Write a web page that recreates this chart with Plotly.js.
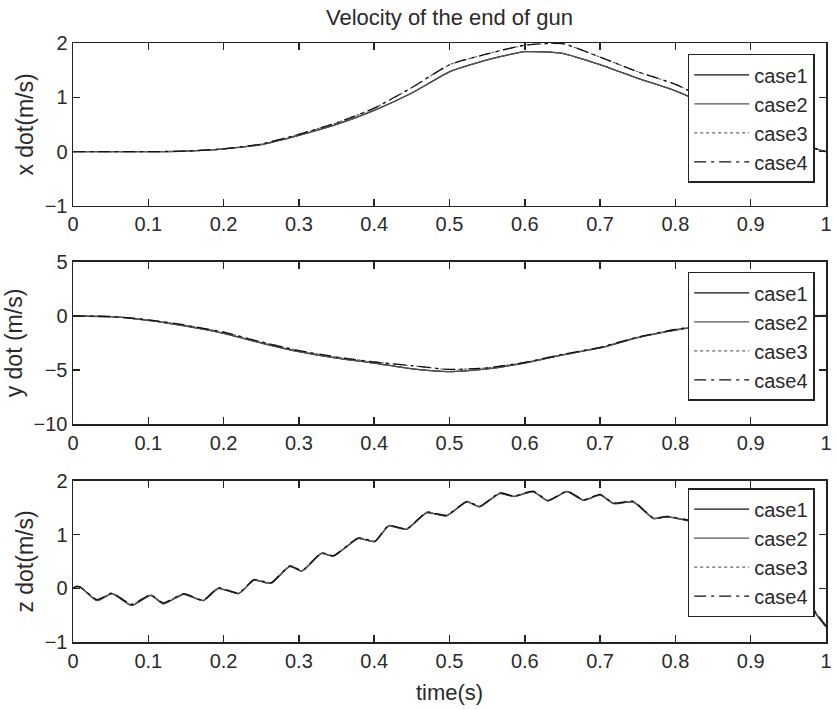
<!DOCTYPE html>
<html>
<head>
<meta charset="utf-8">
<script src="https://cdn.plot.ly/plotly-3.0.1.min.js"></script>
<style>html,body{margin:0;padding:0;background:#fff;}#chart{width:836px;height:710px;}</style>
</head>
<body>
<div id="chart"></div>
<script>
// ---- data ----
const caseNames = ["case1", "case2", "case3", "case4"];
const xTicks = [0, 0.1, 0.2, 0.3, 0.4, 0.5, 0.6, 0.7, 0.8, 0.9, 1];

// x dot & y dot sample times (s)
const tXY = [0, 0.05, 0.1, 0.15, 0.2, 0.25, 0.3, 0.35, 0.4, 0.45, 0.5, 0.55, 0.6, 0.65, 0.7, 0.75, 0.8, 0.85, 0.9, 0.95, 1.0];

const xdotCase1 = [0, 0, 0, 0.01, 0.05, 0.13, 0.30, 0.50, 0.76, 1.08, 1.47, 1.69, 1.84, 1.81, 1.60, 1.35, 1.12, 0.82, 0.50, 0.20, 0.0];
const xdotCase2 = [0, 0, 0, 0.01, 0.05, 0.13, 0.30, 0.50, 0.76, 1.08, 1.47, 1.69, 1.84, 1.81, 1.60, 1.35, 1.12, 0.82, 0.50, 0.20, 0.0];
const xdotCase3 = [0, 0, 0, 0.01, 0.05, 0.14, 0.32, 0.53, 0.80, 1.18, 1.60, 1.80, 1.96, 1.99, 1.74, 1.47, 1.24, 0.90, 0.55, 0.22, 0.0];
const xdotCase4 = [0, 0, 0, 0.01, 0.05, 0.14, 0.32, 0.53, 0.80, 1.18, 1.60, 1.80, 1.96, 1.99, 1.74, 1.47, 1.24, 0.90, 0.55, 0.22, 0.0];

const ydotCase1 = [0, -0.06, -0.40, -0.93, -1.60, -2.50, -3.30, -3.90, -4.35, -4.90, -5.15, -4.90, -4.35, -3.60, -2.96, -2.00, -1.30, -0.80, -0.40, -0.15, 0.0];
const ydotCase2 = [0, -0.06, -0.40, -0.93, -1.60, -2.50, -3.30, -3.90, -4.35, -4.90, -5.15, -4.90, -4.35, -3.60, -2.96, -2.00, -1.30, -0.80, -0.40, -0.15, 0.0];
const ydotCase3 = [0, -0.05, -0.35, -0.85, -1.50, -2.40, -3.20, -3.80, -4.25, -4.60, -4.95, -4.80, -4.30, -3.55, -2.90, -1.95, -1.25, -0.75, -0.35, -0.10, 0.05];
const ydotCase4 = [0, -0.05, -0.35, -0.85, -1.50, -2.40, -3.20, -3.80, -4.25, -4.60, -4.95, -4.80, -4.30, -3.55, -2.90, -1.95, -1.25, -0.75, -0.35, -0.10, 0.05];

// z dot sample times (s)
const tZ = [0, 0.005, 0.01, 0.032, 0.052, 0.078, 0.103, 0.12, 0.147, 0.173, 0.193, 0.22, 0.24, 0.258, 0.264, 0.288, 0.304, 0.33, 0.346, 0.379, 0.401, 0.419, 0.443, 0.47, 0.496, 0.523, 0.54, 0.567, 0.585, 0.611, 0.631, 0.656, 0.678, 0.70, 0.718, 0.744, 0.771, 0.789, 0.82, 0.85, 0.88, 0.91, 0.94, 0.965, 0.983, 1.0];
const zdotCase1 = [0.0, 0.03, 0.02, -0.23, -0.10, -0.32, -0.13, -0.29, -0.11, -0.23, 0.0, -0.10, 0.15, 0.10, 0.10, 0.41, 0.32, 0.65, 0.60, 0.93, 0.87, 1.16, 1.10, 1.41, 1.35, 1.61, 1.52, 1.77, 1.71, 1.80, 1.63, 1.80, 1.64, 1.74, 1.58, 1.61, 1.30, 1.33, 1.25, 1.10, 0.95, 0.75, 0.45, 0.10, -0.40, -0.72];
const zdotCase2 = [0.0, 0.03, 0.02, -0.23, -0.10, -0.32, -0.13, -0.29, -0.11, -0.23, 0.0, -0.10, 0.15, 0.10, 0.10, 0.41, 0.32, 0.65, 0.60, 0.93, 0.87, 1.16, 1.10, 1.41, 1.35, 1.61, 1.52, 1.77, 1.71, 1.80, 1.63, 1.80, 1.64, 1.74, 1.58, 1.61, 1.30, 1.33, 1.25, 1.10, 0.95, 0.75, 0.45, 0.10, -0.40, -0.72];
const zdotCase3 = [0.0, 0.04, 0.02, -0.21, -0.09, -0.30, -0.12, -0.27, -0.10, -0.22, 0.01, -0.09, 0.16, 0.11, 0.11, 0.42, 0.33, 0.66, 0.61, 0.94, 0.88, 1.17, 1.11, 1.42, 1.36, 1.62, 1.53, 1.78, 1.72, 1.81, 1.64, 1.81, 1.65, 1.75, 1.59, 1.62, 1.31, 1.34, 1.26, 1.11, 0.96, 0.76, 0.46, 0.11, -0.38, -0.70];
const zdotCase4 = [0.0, 0.04, 0.02, -0.21, -0.09, -0.30, -0.12, -0.27, -0.10, -0.22, 0.01, -0.09, 0.16, 0.11, 0.11, 0.42, 0.33, 0.66, 0.61, 0.94, 0.88, 1.17, 1.11, 1.42, 1.36, 1.62, 1.53, 1.78, 1.72, 1.81, 1.64, 1.81, 1.65, 1.75, 1.59, 1.62, 1.31, 1.34, 1.26, 1.11, 0.96, 0.76, 0.46, 0.11, -0.38, -0.70];

// ---- styles ----
const FONT = "Liberation Sans, Arial, Helvetica, sans-serif";
const TXT = "#2a2a2a";
const lineStyles = [
  {color: "#111", width: 1.3, dash: "solid"},
  {color: "#555", width: 1.2, dash: "solid"},
  {color: "#666", width: 1.2, dash: "dot"},
  {color: "#111", width: 1.3, dash: "12px,5px,3px,5px"}
];

const panels = [
  {t: tXY, ys: [xdotCase1, xdotCase2, xdotCase3, xdotCase4], xa: "x", ya: "y", lg: "legend"},
  {t: tXY, ys: [ydotCase1, ydotCase2, ydotCase3, ydotCase4], xa: "x2", ya: "y2", lg: "legend2"},
  {t: tZ, ys: [zdotCase1, zdotCase2, zdotCase3, zdotCase4], xa: "x3", ya: "y3", lg: "legend3"}
];

const traces = [];
panels.forEach(p => {
  p.ys.forEach((vals, i) => {
    traces.push({
      type: "scatter", mode: "lines",
      x: p.t, y: vals, name: caseNames[i],
      xaxis: p.xa, yaxis: p.ya, legend: p.lg,
      line: Object.assign({}, lineStyles[i], {shape: "spline", smoothing: 0.5})
    });
  });
});

function xAxis(anchor, title) {
  const a = {
    anchor: anchor, range: [0, 1], tickvals: xTicks, ticktext: xTicks.map(String),
    showline: true, mirror: "ticks", linecolor: "#222", linewidth: 1.5,
    ticks: "inside", ticklen: 7, tickcolor: "#222", tickwidth: 1.5,
    showgrid: false, zeroline: false,
    tickfont: {family: FONT, size: 20, color: TXT}
  };
  if (title) a.title = {text: title, font: {family: FONT, size: 22, color: TXT}, standoff: 14};
  return a;
}
function yAxis(anchor, domain, range, dtick, title) {
  return {
    anchor: anchor, domain: domain, range: range, dtick: dtick, tick0: range[0],
    showline: true, mirror: "ticks", linecolor: "#222", linewidth: 1.5,
    ticks: "inside", ticklen: 7, tickcolor: "#222", tickwidth: 1.5,
    showgrid: false, zeroline: false,
    tickfont: {family: FONT, size: 20, color: TXT},
    title: {text: title, font: {family: FONT, size: 23, color: TXT}, standoff: 4}
  };
}
function legendAt(y) {
  return {
    x: 0.985, xanchor: "right", y: y, yanchor: "top",
    bgcolor: "#fff", bordercolor: "#222", borderwidth: 1.5,
    font: {family: FONT, size: 20, color: TXT},
    itemwidth: 55, tracegroupgap: 0
  };
}

const layout = {
  width: 836, height: 710,
  paper_bgcolor: "#fff", plot_bgcolor: "#fff",
  margin: {l: 73, r: 10, t: 43, b: 68},
  showlegend: true,
  title: {text: "Velocity of the end of gun", font: {family: FONT, size: 22, color: TXT},
          xref: "paper", x: 0.5, xanchor: "center", yref: "container", y: 0.976, yanchor: "middle"},
  xaxis: xAxis("y"),
  yaxis: yAxis("x", [0.7279, 1], [-1, 2], 1, "x dot(m/s)"),
  xaxis2: xAxis("y2"),
  yaxis2: yAxis("x2", [0.3639, 0.6344], [-10, 5], 5, "y dot (m/s)"),
  xaxis3: xAxis("y3", "time(s)"),
  yaxis3: yAxis("x3", [0, 0.2688], [-1, 2], 1, "z dot(m/s)"),
  legend: legendAt(0.982),
  legend2: legendAt(0.618),
  legend3: legendAt(0.257)
};

Plotly.newPlot("chart", traces, layout, {staticPlot: true, displayModeBar: false});
</script>
</body>
</html>
